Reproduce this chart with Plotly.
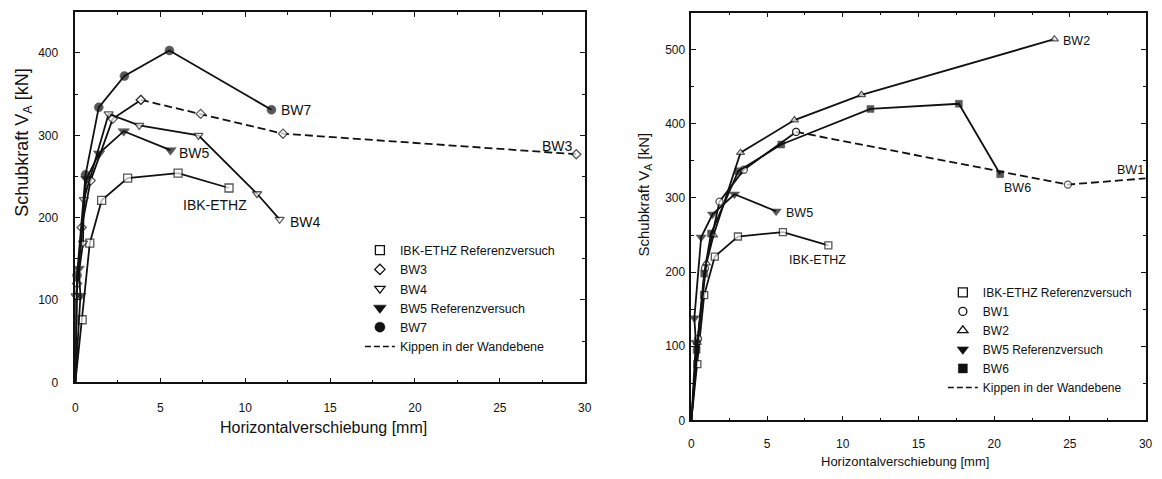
import plotly.graph_objects as go

# Load-displacement curves: Horizontalverschiebung [mm] vs. Schubkraft V_A [kN]
ibk_x = [0, 0.4, 0.85, 1.55, 3.08, 6.05, 9.05]
ibk_y = [0, 76, 169, 221, 248, 254, 236]

bw1_x = [0, 0.45, 0.9, 1.86, 3.47, 6.92, 24.87, 31.0]
bw1_y = [0, 110, 205, 295, 338, 389, 318, 328]

bw2_x = [0, 0.4, 1.0, 1.47, 3.25, 6.81, 11.24, 23.98]
bw2_y = [0, 105, 212, 250, 361, 405, 439, 514]

bw3_x = [0, 0.1, 0.37, 0.9, 2.2, 3.86, 7.38, 12.23, 29.5]
bw3_y = [0, 120, 188, 245, 320, 343, 326, 302, 277]

bw4_x = [0, 0.02, 0.45, 0.5, 1.96, 3.76, 7.25, 10.7, 12.03]
bw4_y = [0, 105, 169, 222, 326, 312, 300, 229, 198]

bw5_x = [0, 0.3, 0.2, 0.65, 1.4, 2.85, 5.6]
bw5_y = [0, 105, 138, 247, 278, 305, 282]

bw6_x = [0, 0.35, 0.85, 1.3, 3.1, 5.94, 11.83, 17.67, 20.4]
bw6_y = [0, 95, 198, 252, 336, 372, 420, 427, 332]

bw7_x = [0, 0.1, 0.6, 1.38, 2.89, 5.54, 11.55]
bw7_y = [0, 130, 252, 334, 372, 403, 331]

x_ticks = [0, 5, 10, 15, 20, 25, 30]

FONT = "Liberation Sans, Arial, Helvetica, sans-serif"
INK = "#111111"

fig = go.Figure()


def marker_style(symbol, size, filled):
    if filled:
        return dict(symbol=symbol, size=size, color=INK, line=dict(color=INK, width=0.5))
    return dict(symbol=symbol, size=size, color="white", line=dict(color=INK, width=1.3))


def add_curve(x, y, symbol, size, filled, xa, ya, dash_after_peak=False):
    n = len(x)
    sizes = [0] + [size] * (n - 1)
    if dash_after_peak:
        k = max(range(n), key=lambda i: y[i])
        parts = [(x[:k + 1], y[:k + 1], sizes[:k + 1], "solid", False),
                 (x[k:], y[k:], sizes[k:], "8px,4px", True)]
    else:
        parts = [(x, y, sizes, "solid", False)]
    for px, py, ps, dash, clip in parts:
        m = marker_style(symbol, size, filled)
        m["size"] = ps
        fig.add_trace(go.Scatter(
            x=px, y=py, mode="lines+markers", xaxis=xa, yaxis=ya,
            line=dict(color=INK, width=1.8, dash=dash),
            marker=m, showlegend=False, cliponaxis=clip, hoverinfo="x+y"))


def add_legend_entry(name, legend, xa, ya, symbol=None, size=9, filled=False):
    if symbol is None:
        fig.add_trace(go.Scatter(
            x=[None], y=[None], mode="lines", name=name, legend=legend,
            xaxis=xa, yaxis=ya, line=dict(color=INK, width=1.5, dash="6px,3px")))
    else:
        fig.add_trace(go.Scatter(
            x=[None], y=[None], mode="markers", name=name, legend=legend,
            xaxis=xa, yaxis=ya, marker=marker_style(symbol, size, filled)))


# left panel
add_curve(ibk_x, ibk_y, "square", 8, False, "x", "y")
add_curve(bw3_x, bw3_y, "diamond", 7, False, "x", "y", dash_after_peak=True)
add_curve(bw4_x, bw4_y, "triangle-down", 8, False, "x", "y")
add_curve(bw5_x, bw5_y, "triangle-down", 10, True, "x", "y")
add_curve(bw7_x, bw7_y, "circle", 9, True, "x", "y")

add_legend_entry("IBK-ETHZ Referenzversuch", "legend", "x", "y", "square", 9, False)
add_legend_entry("BW3", "legend", "x", "y", "diamond", 8, False)
add_legend_entry("BW4", "legend", "x", "y", "triangle-down", 9, False)
add_legend_entry("BW5 Referenzversuch", "legend", "x", "y", "triangle-down", 11, True)
add_legend_entry("BW7", "legend", "x", "y", "circle", 10, True)
add_legend_entry("Kippen in der Wandebene", "legend", "x", "y")

# right panel
add_curve(ibk_x, ibk_y, "square", 7, False, "x2", "y2")
add_curve(bw1_x, bw1_y, "circle", 7, False, "x2", "y2", dash_after_peak=True)
add_curve(bw2_x, bw2_y, "triangle-up", 7, False, "x2", "y2")
add_curve(bw5_x, bw5_y, "triangle-down", 9, True, "x2", "y2")
add_curve(bw6_x, bw6_y, "square", 7, True, "x2", "y2")

add_legend_entry("IBK-ETHZ Referenzversuch", "legend2", "x2", "y2", "square", 9, False)
add_legend_entry("BW1", "legend2", "x2", "y2", "circle", 8, False)
add_legend_entry("BW2", "legend2", "x2", "y2", "triangle-up", 9, False)
add_legend_entry("BW5 Referenzversuch", "legend2", "x2", "y2", "triangle-down", 10, True)
add_legend_entry("BW6", "legend2", "x2", "y2", "square", 9, True)
add_legend_entry("Kippen in der Wandebene", "legend2", "x2", "y2")

axis_common = dict(
    showline=True, linecolor=INK, linewidth=1.5, mirror="ticks",
    ticks="inside", ticklen=5, tickwidth=1, tickcolor=INK,
    showgrid=False, zeroline=False,
    tickfont=dict(family=FONT, size=12, color=INK),
)

fig.update_layout(
    width=1162, height=479,
    margin=dict(l=0, r=0, t=0, b=0),
    paper_bgcolor="white", plot_bgcolor="white",
    font=dict(family=FONT, color=INK),
    xaxis=dict(axis_common, domain=[0.0628, 0.505], range=[0, 30], anchor="y",
               tickvals=x_ticks, ticklabelstandoff=14,
               minor=dict(dtick=2.5, ticks="inside", ticklen=3, tickcolor=INK)),
    yaxis=dict(axis_common, domain=[0.19, 0.975], range=[0, 450], anchor="x",
               dtick=100, ticklabelstandoff=13,
               minor=dict(dtick=50, ticks="inside", ticklen=3, tickcolor=INK)),
    xaxis2=dict(axis_common, domain=[0.5975, 0.9918], range=[0, 30], anchor="y2",
                tickvals=x_ticks, ticklabelstandoff=11,
                minor=dict(dtick=2.5, ticks="inside", ticklen=3, tickcolor=INK)),
    yaxis2=dict(axis_common, domain=[0.1092, 0.9735], range=[0, 550], anchor="x2",
                dtick=100, ticklabelstandoff=2,
                minor=dict(dtick=50, ticks="inside", ticklen=3, tickcolor=INK)),
    legend=dict(x=360 / 1162, y=(479 - 239) / 479, xanchor="left", yanchor="top",
                bgcolor="rgba(0,0,0,0)", itemwidth=30, tracegroupgap=0,
                font=dict(family=FONT, size=12.5, color=INK)),
    legend2=dict(x=948 / 1162, y=(479 - 282) / 479, xanchor="left", yanchor="top",
                 bgcolor="rgba(0,0,0,0)", itemwidth=30, tracegroupgap=0,
                 font=dict(family=FONT, size=12, color=INK)),
)

label_font_l = dict(family=FONT, size=14, color=INK)
label_font_r = dict(family=FONT, size=12.5, color=INK)
notes = [
    # curve labels, left panel
    dict(x=bw7_x[-1], y=bw7_y[-1], xref="x", yref="y", text="BW7",
         xanchor="left", xshift=8, font=label_font_l),
    dict(x=bw5_x[-1], y=bw5_y[-1], xref="x", yref="y", text="BW5",
         xanchor="left", xshift=7, yshift=-3, font=label_font_l),
    dict(x=6.2, y=215, xref="x", yref="y", text="IBK-ETHZ",
         xanchor="left", font=label_font_l),
    dict(x=bw4_x[-1], y=bw4_y[-1], xref="x", yref="y", text="BW4",
         xanchor="left", xshift=8, yshift=-3, font=label_font_l),
    dict(x=bw3_x[-1], y=bw3_y[-1], xref="x", yref="y", text="BW3",
         xanchor="right", xshift=-1, yshift=8, font=label_font_l),
    # curve labels, right panel
    dict(x=bw2_x[-1], y=bw2_y[-1], xref="x2", yref="y2", text="BW2",
         xanchor="left", xshift=7, yshift=-2, font=label_font_r),
    dict(x=30.0, y=337, xref="x2", yref="y2", text="BW1",
         xanchor="right", font=label_font_r),
    dict(x=bw6_x[-1], y=bw6_y[-1], xref="x2", yref="y2", text="BW6",
         xanchor="left", xshift=2, yshift=-14, font=label_font_r),
    dict(x=bw5_x[-1], y=bw5_y[-1], xref="x2", yref="y2", text="BW5",
         xanchor="left", xshift=8, yshift=-2, font=label_font_r),
    dict(x=6.35, y=216, xref="x2", yref="y2", text="IBK-ETHZ",
         xanchor="left", font=label_font_r),
    # axis titles
    dict(x=21 / 1162, y=(479 - 145) / 479, xref="paper", yref="paper",
         text="Schubkraft V<sub>A</sub> [kN]", textangle=-90,
         font=dict(family=FONT, size=18, color=INK)),
    dict(x=323 / 1162, y=(479 - 434) / 479, xref="paper", yref="paper",
         text="Horizontalverschiebung [mm]",
         font=dict(family=FONT, size=16, color=INK)),
    dict(x=647 / 1162, y=(479 - 197) / 479, xref="paper", yref="paper",
         text="Schubkraft V<sub>A</sub> [kN]", textangle=-90,
         font=dict(family=FONT, size=15, color=INK)),
    dict(x=910 / 1162, y=(479 - 468) / 479, xref="paper", yref="paper",
         text="Horizontalverschiebung [mm]",
         font=dict(family=FONT, size=13, color=INK)),
]
for a in notes:
    a.setdefault("showarrow", False)
    a.setdefault("yanchor", "middle")
    a.setdefault("xanchor", "center")
    fig.add_annotation(**a)

fig.write_html("out.html")
